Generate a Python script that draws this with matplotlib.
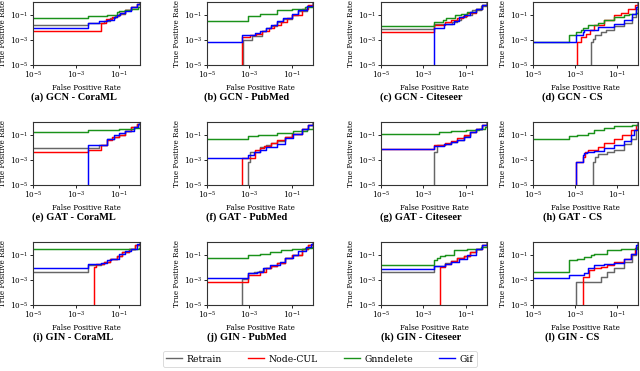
import matplotlib
matplotlib.use("Agg")
import matplotlib.pyplot as plt
from matplotlib.lines import Line2D

SERIES = ["Retrain", "Node-CUL", "Gnndelete", "Gif"]
COLORS = ["#666666", "#ff0000", "#1a921a", "#0000ff"]

TITLES = ["(a) GCN - CoraML", "(b) GCN - PubMed", "(c) GCN - Citeseer", "(d) GCN - CS",
          "(e) GAT - CoraML", "(f) GAT - PubMed", "(g) GAT - Citeseer", "(h) GAT - CS",
          "(i) GIN - CoraML", "(j) GIN - PubMed", "(k) GIN - Citeseer", "(l) GIN - CS"]

# each curve: list of (fpr, tpr) ROC points (step-post)
gcn_coraml = {
    "Retrain": [(0, 0.0145), (0.0038, 0.023), (0.02, 0.03), (0.04, 0.05), (0.07, 0.08), (0.1, 0.12), (0.2, 0.22), (0.4, 0.42), (0.7, 0.7), (1, 1)],
    "Node-CUL": [(0, 0.005), (0.015, 0.02), (0.025, 0.045), (0.05, 0.06), (0.08, 0.1), (0.12, 0.13), (0.2, 0.22), (0.4, 0.42), (0.7, 0.72), (1, 1)],
    "Gnndelete": [(0, 0.058), (0.0038, 0.075), (0.01, 0.08), (0.03, 0.09), (0.06, 0.1), (0.08, 0.15), (0.1, 0.2), (0.2, 0.25), (0.4, 0.3), (0.8, 0.42), (1, 1)],
    "Gif": [(0, 0.0093), (0.0038, 0.022), (0.0126, 0.032), (0.03, 0.04), (0.06, 0.065), (0.08, 0.1), (0.12, 0.13), (0.2, 0.21), (0.4, 0.4), (0.7, 0.75), (1, 1)],
}
gcn_pubmed = {
    "Retrain": [(0, 0), (0.0005, 0.001), (0.0013, 0.002), (0.0038, 0.005), (0.006, 0.008), (0.01, 0.012), (0.02, 0.025), (0.04, 0.045), (0.1, 0.1), (0.2, 0.2), (0.5, 0.5), (1, 1)],
    "Node-CUL": [(0, 0), (0.00047, 0.0016), (0.0011, 0.0025), (0.002, 0.003), (0.004, 0.005), (0.008, 0.008), (0.015, 0.015), (0.03, 0.028), (0.06, 0.055), (0.1, 0.09), (0.3, 0.3), (0.6, 0.62), (1, 1)],
    "Gnndelete": [(0, 0.032), (0.0009, 0.074), (0.003, 0.12), (0.02, 0.22), (0.1, 0.3), (0.4, 0.37), (0.9, 0.42), (1, 1)],
    "Gif": [(0, 0.00062), (0.00047, 0.0023), (0.0019, 0.0032), (0.003, 0.005), (0.006, 0.008), (0.01, 0.014), (0.02, 0.03), (0.04, 0.05), (0.1, 0.12), (0.2, 0.22), (0.5, 0.5), (1, 1)],
}
gcn_citeseer = {
    "Retrain": [(0, 0.0066), (0.0032, 0.017), (0.023, 0.025), (0.04, 0.04), (0.06, 0.06), (0.1, 0.1), (0.2, 0.22), (0.5, 0.5), (1, 1)],
    "Node-CUL": [(0, 0.0038), (0.0032, 0.015), (0.011, 0.025), (0.02, 0.035), (0.04, 0.05), (0.07, 0.08), (0.12, 0.13), (0.3, 0.3), (0.6, 0.6), (1, 1)],
    "Gnndelete": [(0, 0.012), (0.0032, 0.026), (0.008, 0.04), (0.012, 0.055), (0.03, 0.09), (0.06, 0.12), (0.12, 0.15), (0.3, 0.3), (0.6, 0.6), (1, 1)],
    "Gif": [(0, 0), (0.0032, 0.008), (0.0093, 0.017), (0.027, 0.03), (0.05, 0.06), (0.08, 0.1), (0.15, 0.15), (0.3, 0.3), (0.6, 0.6), (1, 1)],
}
gcn_cs = {
    "Retrain": [(0, 0), (0.0058, 0.0007), (0.007, 0.0011), (0.009, 0.0025), (0.017, 0.004), (0.03, 0.006), (0.074, 0.012), (0.22, 0.022), (0.54, 0.066), (0.78, 0.3), (1, 1)],
    "Node-CUL": [(0, 0), (0.0012, 0.0007), (0.0019, 0.0017), (0.0033, 0.003), (0.005, 0.006), (0.0083, 0.0145), (0.025, 0.035), (0.074, 0.09), (0.15, 0.135), (0.32, 0.3), (0.7, 0.55), (1, 1)],
    "Gnndelete": [(0, 0.00066), (0.00054, 0.0023), (0.0011, 0.004), (0.002, 0.0057), (0.0025, 0.008), (0.004, 0.0145), (0.012, 0.022), (0.025, 0.035), (0.074, 0.066), (0.22, 0.09), (0.37, 0.11), (0.8, 0.13), (1, 1)],
    "Gif": [(0, 0.00066), (0.0011, 0.0023), (0.0023, 0.0043), (0.0028, 0.0057), (0.012, 0.0107), (0.074, 0.017), (0.22, 0.035), (0.54, 0.12), (0.78, 0.4), (1, 1)],
}
gat_coraml = {
    "Retrain": [(0, 0.0093), (0.0126, 0.0145), (0.03, 0.048), (0.06, 0.07), (0.1, 0.1), (0.2, 0.2), (0.4, 0.4), (0.7, 0.7), (1, 1)],
    "Node-CUL": [(0, 0.0045), (0.0038, 0.006), (0.015, 0.015), (0.03, 0.035), (0.05, 0.06), (0.1, 0.1), (0.2, 0.2), (0.4, 0.4), (0.7, 0.7), (1, 1)],
    "Gnndelete": [(0, 0.16), (0.0038, 0.25), (0.1, 0.28), (0.5, 0.33), (0.9, 0.35), (1, 1)],
    "Gif": [(0, 0), (0.0038, 0.0145), (0.03, 0.048), (0.063, 0.088), (0.1, 0.135), (0.2, 0.2), (0.5, 0.4), (0.8, 0.7), (1, 1)],
}
gat_pubmed = {
    "Retrain": [(0, 0), (0.0009, 0.0007), (0.0011, 0.0043), (0.003, 0.0107), (0.006, 0.015), (0.01, 0.02), (0.02, 0.03), (0.05, 0.06), (0.1, 0.12), (0.3, 0.3), (0.6, 0.6), (1, 1)],
    "Node-CUL": [(0, 0), (0.00047, 0.0013), (0.0019, 0.0058), (0.003, 0.008), (0.005, 0.012), (0.01, 0.02), (0.02, 0.035), (0.05, 0.06), (0.1, 0.12), (0.3, 0.3), (0.6, 0.6), (1, 1)],
    "Gnndelete": [(0, 0.048), (0.0009, 0.074), (0.0025, 0.1), (0.02, 0.135), (0.12, 0.18), (0.5, 0.3), (1, 1)],
    "Gif": [(0, 0.0013), (0.0009, 0.0023), (0.0016, 0.0043), (0.003, 0.0058), (0.006, 0.0107), (0.02, 0.018), (0.05, 0.05), (0.11, 0.12), (0.3, 0.3), (0.6, 0.6), (1, 1)],
}
gat_citeseer = {
    "Retrain": [(0, 0), (0.003, 0.0038), (0.0045, 0.014), (0.01, 0.018), (0.02, 0.026), (0.04, 0.04), (0.08, 0.08), (0.15, 0.15), (0.3, 0.3), (0.6, 0.6), (1, 1)],
    "Node-CUL": [(0, 0.0069), (0.003, 0.016), (0.01, 0.02), (0.02, 0.03), (0.04, 0.05), (0.08, 0.09), (0.15, 0.15), (0.3, 0.3), (0.6, 0.6), (1, 1)],
    "Gnndelete": [(0, 0.107), (0.0054, 0.16), (0.02, 0.2), (0.1, 0.25), (0.4, 0.3), (0.8, 0.4), (1, 1)],
    "Gif": [(0, 0.0069), (0.003, 0.012), (0.0093, 0.017), (0.02, 0.026), (0.04, 0.04), (0.08, 0.07), (0.15, 0.15), (0.3, 0.3), (0.6, 0.6), (1, 1)],
}
gat_cs = {
    "Retrain": [(0, 0), (0.0069, 0.0007), (0.009, 0.0017), (0.012, 0.003), (0.035, 0.0043), (0.074, 0.0058), (0.22, 0.017), (0.45, 0.048), (0.78, 0.3), (1, 1)],
    "Node-CUL": [(0, 0), (0.0011, 0.0007), (0.0023, 0.0017), (0.003, 0.004), (0.004, 0.0058), (0.012, 0.0107), (0.025, 0.02), (0.074, 0.048), (0.18, 0.1), (0.45, 0.22), (0.78, 0.55), (1, 1)],
    "Gnndelete": [(0, 0.048), (0.00054, 0.074), (0.0013, 0.088), (0.004, 0.145), (0.0083, 0.22), (0.025, 0.35), (0.074, 0.45), (0.5, 0.55), (1, 1)],
    "Gif": [(0, 0), (0.0011, 0.0007), (0.0023, 0.0023), (0.0028, 0.0032), (0.0036, 0.0043), (0.0083, 0.005), (0.025, 0.0079), (0.074, 0.0145), (0.22, 0.032), (0.45, 0.088), (0.65, 0.22), (1, 1)],
}
gin_coraml = {
    "Retrain": [(0, 0.0043), (0.0038, 0.0145), (0.015, 0.018), (0.02, 0.025), (0.04, 0.045), (0.08, 0.08), (0.15, 0.15), (0.3, 0.3), (0.6, 0.6), (1, 1)],
    "Node-CUL": [(0, 0), (0.0072, 0.011), (0.009, 0.017), (0.02, 0.025), (0.04, 0.048), (0.08, 0.08), (0.15, 0.15), (0.3, 0.3), (0.6, 0.6), (1, 1)],
    "Gnndelete": [(0, 0.26), (0.0038, 0.28), (0.1, 0.3), (0.9, 0.32), (1, 1)],
    "Gif": [(0, 0.0079), (0.0038, 0.017), (0.015, 0.02), (0.03, 0.04), (0.044, 0.048), (0.1, 0.107), (0.2, 0.2), (0.36, 0.3), (0.7, 0.7), (1, 1)],
}
gin_pubmed = {
    "Retrain": [(0, 0), (0.00047, 0.0011), (0.0009, 0.0032), (0.0016, 0.0045), (0.0028, 0.005), (0.005, 0.008), (0.01, 0.013), (0.02, 0.022), (0.05, 0.05), (0.1, 0.1), (0.3, 0.3), (0.6, 0.6), (1, 1)],
    "Node-CUL": [(0, 0.00062), (0.0009, 0.0023), (0.003, 0.004), (0.006, 0.008), (0.01, 0.013), (0.02, 0.022), (0.05, 0.05), (0.1, 0.1), (0.3, 0.3), (0.6, 0.6), (1, 1)],
    "Gnndelete": [(0, 0.058), (0.0009, 0.09), (0.003, 0.12), (0.009, 0.16), (0.03, 0.22), (0.1, 0.3), (0.4, 0.33), (0.9, 0.38), (1, 1)],
    "Gif": [(0, 0.0013), (0.0009, 0.0032), (0.0022, 0.0043), (0.0045, 0.0079), (0.0093, 0.0145), (0.027, 0.026), (0.05, 0.05), (0.11, 0.088), (0.2, 0.2), (0.49, 0.4), (0.8, 0.75), (1, 1)],
}
gin_citeseer = {
    "Retrain": [(0, 0.0038), (0.003, 0.012), (0.01, 0.02), (0.02, 0.03), (0.04, 0.05), (0.08, 0.08), (0.15, 0.15), (0.3, 0.3), (0.6, 0.6), (1, 1)],
    "Node-CUL": [(0, 0), (0.006, 0.0107), (0.01, 0.017), (0.02, 0.03), (0.04, 0.05), (0.08, 0.08), (0.15, 0.15), (0.3, 0.3), (0.6, 0.6), (1, 1)],
    "Gnndelete": [(0, 0.0145), (0.003, 0.04), (0.0045, 0.05), (0.006, 0.074), (0.01, 0.085), (0.027, 0.22), (0.11, 0.3), (0.5, 0.4), (1, 1)],
    "Gif": [(0, 0.0069), (0.003, 0.012), (0.01, 0.017), (0.02, 0.026), (0.05, 0.048), (0.11, 0.1), (0.3, 0.3), (0.6, 0.6), (1, 1)],
}
gin_cs = {
    "Retrain": [(0, 0), (0.0011, 0.0007), (0.017, 0.0017), (0.035, 0.0043), (0.074, 0.0079), (0.22, 0.026), (0.54, 0.088), (0.78, 0.4), (1, 1)],
    "Node-CUL": [(0, 0), (0.0023, 0.0017), (0.0048, 0.0058), (0.0083, 0.0079), (0.017, 0.0107), (0.035, 0.0145), (0.074, 0.026), (0.22, 0.048), (0.45, 0.12), (0.7, 0.35), (1, 1)],
    "Gnndelete": [(0, 0.0038), (0.00054, 0.035), (0.0013, 0.048), (0.0028, 0.066), (0.0058, 0.088), (0.0083, 0.12), (0.035, 0.22), (0.15, 0.3), (0.9, 0.4), (1, 1)],
    "Gif": [(0, 0.0013), (0.00054, 0.0023), (0.0028, 0.0032), (0.004, 0.0079), (0.0083, 0.0145), (0.025, 0.017), (0.074, 0.022), (0.22, 0.048), (0.45, 0.12), (0.78, 0.55), (1, 1)],
}

PANELS = [gcn_coraml, gcn_pubmed, gcn_citeseer, gcn_cs,
          gat_coraml, gat_pubmed, gat_citeseer, gat_cs,
          gin_coraml, gin_pubmed, gin_citeseer, gin_cs]

W, H = 640, 371
COL_LEFT = [33, 207, 381, 533]
COL_W = [107, 106, 106, 105]
ROW_TOP = [2, 122, 242]
AX_H = 63

serif = ["DejaVu Serif"]
fig = plt.figure(figsize=(W / 100, H / 100), dpi=100)

for i, panel in enumerate(PANELS):
    r, c = divmod(i, 4)
    left = COL_LEFT[c] / W
    bottom = 1 - (ROW_TOP[r] + AX_H) / H
    ax = fig.add_axes([left, bottom, COL_W[c] / W, AX_H / H])
    ax.set_xscale("log")
    ax.set_yscale("log")
    for name, col in zip(SERIES, COLORS):
        pts = panel[name]
        xs = [p[0] for p in pts]
        ys = [p[1] for p in pts]
        ax.plot(xs, ys, drawstyle="steps-post", color=col, lw=1.05)
    ax.set_xlim(1e-5, 1)
    ax.set_ylim(1e-5, 1)
    ax.set_xticks([1e-5, 1e-3, 1e-1])
    ax.set_yticks([1e-5, 1e-3, 1e-1])
    ax.minorticks_off()
    ax.tick_params(labelsize=5.2, length=2, width=0.6, pad=1.2)
    for lab in ax.get_xticklabels() + ax.get_yticklabels():
        lab.set_family(serif)
    ax.set_xlabel("False Positive Rate", fontsize=5.2, family=serif, labelpad=2.0)
    ax.set_ylabel("True Positive Rate", fontsize=5.2, family=serif, labelpad=2)
    for s in ax.spines.values():
        s.set_linewidth(0.8)
        s.set_color("#333333")
    cx = (COL_LEFT[c] + COL_W[c] / 2 - 13) / W
    cy = 1 - (ROW_TOP[r] + 95) / H
    fig.text(cx, cy, TITLES[i], ha="center", va="center", fontsize=7.5,
             family=["Liberation Serif"], fontweight="bold")

handles = [Line2D([], [], color=col, lw=1.0) for col in COLORS]
leg = fig.legend(handles, SERIES, loc="center", bbox_to_anchor=(0.5, 1 - 359 / H),
                 ncol=4, frameon=True, prop={"family": "DejaVu Serif", "size": 6.7},
                 handlelength=1.7, handletextpad=0.5, columnspacing=2.8,
                 borderpad=0.35, fancybox=True)
leg.get_frame().set_linewidth(0.6)

fig.savefig("out.png", dpi=100)
